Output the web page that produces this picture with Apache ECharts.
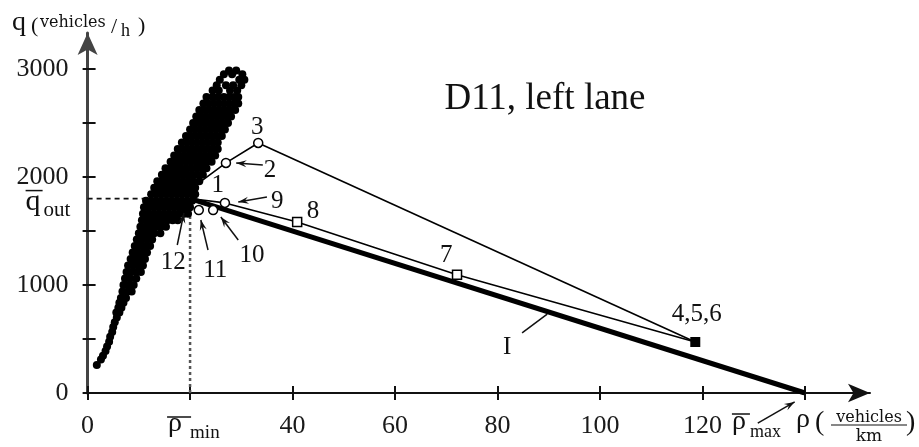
<!DOCTYPE html>
<html><head><meta charset="utf-8">
<script src="https://cdn.jsdelivr.net/npm/echarts@6/dist/echarts.min.js"></script>
<style>html,body{margin:0;padding:0;background:#fff}#c{width:919px;height:447px}</style>
</head><body><div id="c"></div>
<script>
// ---------- data ----------
const xTicks = [0, 20, 40, 60, 80, 100, 120, 140];
const xTickLabels = [0, 40, 60, 80, 100, 120];
const yTicks = [0, 500, 1000, 1500, 2000, 2500, 3000];
const yTickLabels = [0, 1000, 2000, 3000];
const xMax = 152.7;
const yMax = 3333;

// measurement cloud: [q, [rho values in that row]]
const cloudRows = [
 [260,[1.8]],[310,[2.6]],[345,[3.0]],[390,[3.5]],[430,[3.8]],[475,[4.2]],[520,[4.4]],[565,[4.8]],
 [610,[5.0]],[655,[5.3]],[700,[5.7]],[745,[5.6,6.2]],[790,[6.0,6.6]],[835,[6.2,7.0]],
 [880,[6.5,7.5]],
 [940,[6.8,7.8,8.6]],
 [1000,[7.0,8.0,9.0]],
 [1060,[7.3,8.3,9.5]],
 [1120,[7.6,8.6,9.6,10.4]],
 [1180,[7.9,8.9,9.9,10.8]],
 [1240,[8.4,9.4,10.4,11.2]],
 [1300,[8.8,9.8,10.8,11.6]],
 [1360,[9.2,10.2,11.2,12.2]],
 [1420,[9.6,10.6,11.6,12.6]],
 [1480,[10.0,11.0,12.0,13.0,14.2]],
 [1540,[10.3,11.3,12.3,13.3,14.3,15.3]],
 [1600,[10.6,11.6,12.6,13.6,14.6,15.6,16.6,17.6]],
 [1660,[10.8,11.8,12.8,13.8,14.8,15.8,16.8,17.8,18.8,19.6]],
 [1720,[11.0,12.0,13.0,14.0,15.0,16.0,17.0,18.0,19.0,20.0]],
 [1780,[11.4,12.4,13.4,14.4,15.4,16.4,17.4,18.4,19.4,20.4]],
 [1840,[12.4,13.4,14.4,15.4,16.4,17.4,18.4,19.4,20.4,21.0]],
 [1900,[13.0,14.0,15.0,16.0,17.0,18.0,19.0,20.0,21.0]],
 [1960,[13.6,14.6,15.6,16.6,17.6,18.6,19.6,20.6,21.8]],
 [2020,[14.5,15.5,16.5,17.5,18.5,19.5,20.5,21.5,22.5]],
 [2080,[15.2,16.2,17.2,18.2,19.2,20.2,21.2,22.2,23.2]],
 [2140,[16.2,17.2,18.2,19.2,20.2,21.2,22.2,23.2,24.2]],
 [2200,[16.9,17.9,18.9,19.9,20.9,21.9,22.9,23.9,24.9]],
 [2260,[17.6,18.6,19.6,20.6,21.6,22.6,23.6,24.6,25.4]],
 [2320,[18.4,19.4,20.4,21.4,22.4,23.4,24.4,25.4]],
 [2380,[19.2,20.2,21.2,22.2,23.2,24.2,25.2,26.2]],
 [2440,[20.0,21.0,22.0,23.0,24.0,25.0,26.0,26.8]],
 [2500,[20.6,21.6,22.6,23.6,24.6,25.6,26.6,27.4]],
 [2560,[21.2,22.2,23.2,24.2,25.2,26.2,27.2,28.0]],
 [2620,[21.8,22.8,23.8,24.8,25.8,26.8,27.8,28.8]],
 [2680,[22.6,23.6,24.6,25.6,26.6,27.6,28.6,29.4]],
 [2740,[23.2,24.4,25.4,26.6,27.6,28.6,29.4]],
 [2800,[24.4,25.6,27.8,29.2]],
 [2850,[25.2,27.0,28.4,30.0]],
 [2900,[25.8,29.6,30.6]],
 [2950,[26.6,28.2,30.2]],
 [2985,[27.6,29.0]]
];

const refPoint = [20, 1800];            // (rho_min, q_out)
const lineI = [[20, 1800], [140, 0]];
const line1to456 = [[20, 1800], [26.8, 1760], [40.9, 1583], [72.1, 1095], [118.6, 472]];
const line3to456 = [[33.3, 2315], [118.6, 472]];
const line1to3 = [[21.0, 1920], [27.0, 2130], [33.3, 2315]];
const openCircles = [[27.0, 2130], [33.3, 2315], [26.8, 1760], [24.5, 1694], [21.7, 1694]];
const hiddenCircles = [[18.6, 1690]];
const openSquares = [[40.9, 1583], [72.1, 1095]];
const filledSquares = [[118.6, 472]];

const pointLabels = [
 [33.1, 2463, '3'], [35.6, 2056, '2'], [25.4, 1926, '1'], [37.0, 1778, '9'],
 [44.0, 1685, '8'], [70.0, 1269, '7'], [118.9, 731, '4,5,6'],
 [16.7, 1213, '12'], [24.9, 1139, '11'], [32.1, 1278, '10'], [81.9, 426, 'I']
];
// [from, to, arrowhead?]
const arrows = [
 [[34.2, 2111], [29.0, 2130], true],
 [[35.0, 1815], [29.4, 1769], true],
 [[29.4, 1417], [26.0, 1630], true],
 [[23.5, 1324], [22.1, 1602], true],
 [[17.5, 1370], [18.8, 1667], true],
 [[130.8, -278], [138.0, -83], true],
 [[84.8, 556], [89.7, 731], false]
];

// ---------- chart ----------
const SERIF = '"Liberation Serif", "Times New Roman", serif';
const WIDE = '"DejaVu Serif", serif';
const INK = '#111';
const cloud = [];
cloudRows.forEach(([q, rs]) => rs.forEach(r => cloud.push([r, q])));

const chart = echarts.init(document.getElementById('c'));
const tickStyle = { color: '#111', width: 2 };
const lineBase = { type: 'line', symbol: 'none', silent: true, animation: false };

chart.setOption({
  animation: false,
  grid: { left: 87.6, right: 49, top: 33, bottom: 54 },
  xAxis: [
    { type: 'value', min: 0, max: xMax, position: 'bottom',
      axisLine: { onZero: false, lineStyle: { color: '#111', width: 2 }, symbol: ['none', 'arrow'], symbolSize: [14, 22] },
      axisTick: { customValues: xTicks, length: 7, lineStyle: tickStyle },
      axisLabel: { customValues: xTickLabels, margin: 20, fontFamily: SERIF, fontSize: 26, color: '#1a1a1a',
        formatter: v => String(v) },
      splitLine: { show: false } },
    { type: 'value', min: 0, max: xMax, position: 'bottom',
      axisLine: { show: false },
      axisTick: { inside: true, customValues: xTicks, length: 7, lineStyle: tickStyle },
      axisLabel: { show: false }, splitLine: { show: false } }
  ],
  yAxis: [
    { type: 'value', min: 0, max: yMax, position: 'left',
      axisLine: { onZero: false, lineStyle: { color: '#444', width: 3 }, symbol: ['none', 'arrow'], symbolSize: [15, 22] },
      axisTick: { customValues: yTicks, length: 5, lineStyle: tickStyle },
      axisLabel: { customValues: yTickLabels, margin: 19, fontFamily: SERIF, fontSize: 26, color: '#1a1a1a',
        formatter: v => String(v) },
      splitLine: { show: false } },
    { type: 'value', min: 0, max: yMax, position: 'left',
      axisLine: { show: false },
      axisTick: { inside: true, customValues: yTicks, length: 8, lineStyle: tickStyle },
      axisLabel: { show: false }, splitLine: { show: false } }
  ],
  series: [
    Object.assign({}, lineBase, { data: [[0, refPoint[1]], refPoint], z: 1,
      lineStyle: { color: '#111', width: 1.6, type: [5, 4] } }),
    Object.assign({}, lineBase, { data: [[refPoint[0], 0], refPoint], z: 1,
      lineStyle: { color: '#555', width: 2.5, type: [3, 3] } }),
    { type: 'scatter', data: hiddenCircles, symbol: 'circle', symbolSize: 9, z: 2, silent: true,
      itemStyle: { color: '#fff', borderColor: '#000', borderWidth: 1.5, opacity: 1 } },
    { type: 'scatter', data: cloud, symbol: 'circle', symbolSize: 8, z: 3, silent: true,
      itemStyle: { color: '#000', opacity: 1 } },
    Object.assign({}, lineBase, { data: lineI, z: 4, lineStyle: { color: '#000', width: 5 } }),
    Object.assign({}, lineBase, { data: line1to456, z: 4, lineStyle: { color: '#000', width: 1.6 } }),
    Object.assign({}, lineBase, { data: line3to456, z: 4, lineStyle: { color: '#000', width: 1.6 } }),
    Object.assign({}, lineBase, { data: line1to3, z: 4, lineStyle: { color: '#000', width: 1.6 } }),
    { type: 'scatter', data: openCircles, symbol: 'circle', symbolSize: 9, z: 5, silent: true,
      itemStyle: { color: '#fff', borderColor: '#000', borderWidth: 1.5, opacity: 1 } },
    { type: 'scatter', data: openSquares, symbol: 'rect', symbolSize: 9, z: 5, silent: true,
      itemStyle: { color: '#fff', borderColor: '#000', borderWidth: 1.5, opacity: 1 } },
    { type: 'scatter', data: filledSquares, symbol: 'rect', symbolSize: 10, z: 5, silent: true,
      itemStyle: { color: '#000', opacity: 1 } },
    { type: 'scatter', z: 6, silent: true, symbolSize: 1, itemStyle: { color: 'rgba(0,0,0,0)', opacity: 1 },
      data: pointLabels.map(d => ({ name: d[2], value: [d[0], d[1]] })),
      label: { show: true, position: 'inside', formatter: '{b}', fontFamily: SERIF, fontSize: 25, color: INK } }
  ]
});

// ---------- annotations ----------
function P(x, y) { return chart.convertToPixel({ gridIndex: 0 }, [x, y]); }
function T(text, x, yb, size, family, align) {
  return { type: 'text', silent: true, z: 10,
    style: { text: text, x: x, y: yb - 0.3 * size, font: size + 'px ' + (family || SERIF),
      fill: INK, align: align || 'left', verticalAlign: 'middle' } };
}
function L(x1, y1, x2, y2, w) {
  return { type: 'line', silent: true, z: 10, shape: { x1: x1, y1: y1, x2: x2, y2: y2 },
    style: { stroke: INK, lineWidth: w || 1.5 } };
}
const els = [];
arrows.forEach(([f, t, head]) => {
  const a = P(f[0], f[1]), b = P(t[0], t[1]);
  els.push(L(a[0], a[1], b[0], b[1], 1.5));
  if (head) {
    const ang = Math.atan2(b[1] - a[1], b[0] - a[0]), Lh = 11, w = 0.33;
    els.push({ type: 'polygon', silent: true, z: 10, style: { fill: INK },
      shape: { points: [
        [b[0], b[1]],
        [b[0] - Lh * Math.cos(ang - w), b[1] - Lh * Math.sin(ang - w)],
        [b[0] - 0.6 * Lh * Math.cos(ang), b[1] - 0.6 * Lh * Math.sin(ang)],
        [b[0] - Lh * Math.cos(ang + w), b[1] - Lh * Math.sin(ang + w)]
      ] } });
  }
});
// rho_min tick label
const pm = P(refPoint[0], 0);
els.push(L(pm[0] - 23, pm[1] + 24, pm[0] + 1, pm[1] + 24, 1.5));
els.push(T('ρ', pm[0] - 22, pm[1] + 39, 28));
els.push(T('min', pm[0], pm[1] + 46, 19));
// rho_max tick label
const px = P(140, 0);
els.push(L(px[0] - 73, px[1] + 21, px[0] - 55, px[1] + 21, 1.5));
els.push(T('ρ', px[0] - 73, px[1] + 37, 28));
els.push(T('max', px[0] - 55, px[1] + 45, 18));
// q_out label
const pq = P(0, refPoint[1]);
els.push(L(pq[0] - 62, pq[1] - 8, pq[0] - 45, pq[1] - 8, 1.5));
els.push(T('q', pq[0] - 62, pq[1] + 13, 30));
els.push(T('out', pq[0] - 44, pq[1] + 18, 21));
// title
els.push(T('D11, left lane', 545, 110, 37, SERIF, 'center'));
// y-axis title
els.push(T('q', 12, 31, 28));
els.push(T('(', 31, 33, 22));
els.push(T('vehicles', 40, 28, 16, WIDE));
els.push(T('/', 111, 34, 22));
els.push(T('h', 121, 37, 18));
els.push(T(')', 138, 33, 22));
// x-axis title
els.push(T('ρ', 796, 428, 28));
els.push(T('(', 815, 431, 28));
els.push(T('vehicles', 869, 423, 16, WIDE, 'center'));
els.push(L(831, 425, 907, 425, 1.2));
els.push(T('km', 869, 442, 17, WIDE, 'center'));
els.push(T(')', 906, 431, 28));
chart.setOption({ graphic: { elements: els } });
</script>
</body></html>
